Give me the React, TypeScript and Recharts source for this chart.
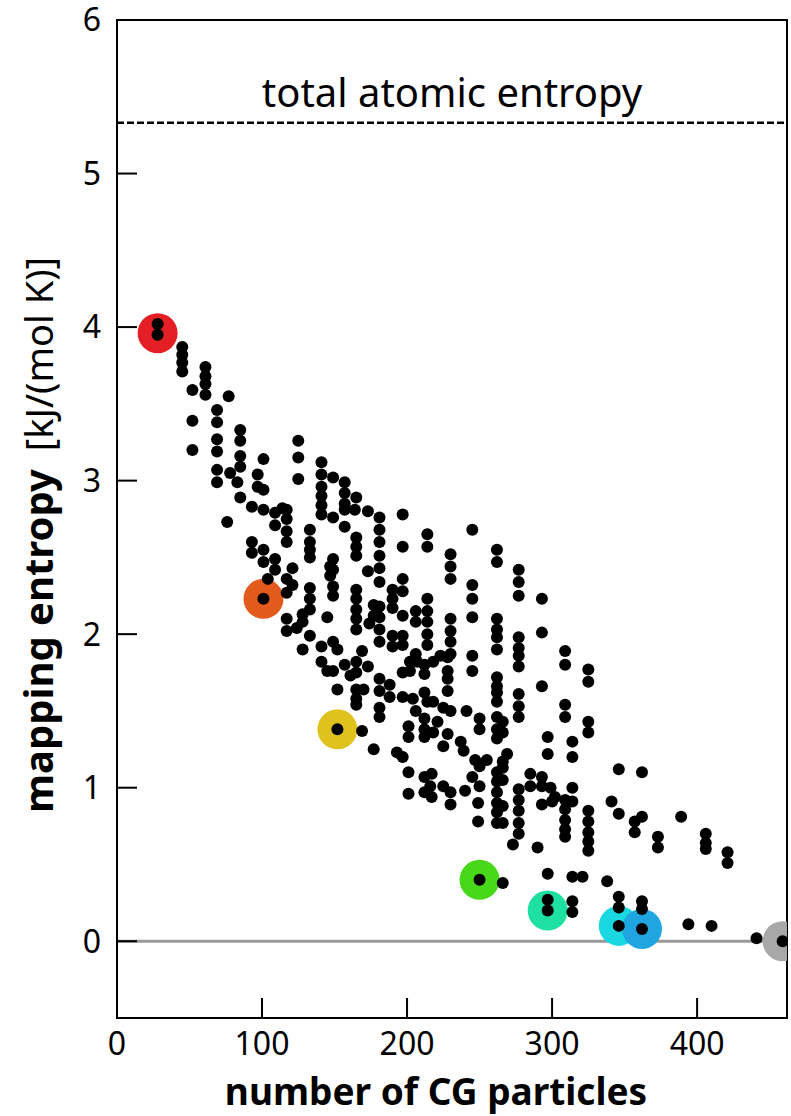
import { ScatterChart, Scatter, XAxis, YAxis, ReferenceLine, ReferenceArea, Label } from 'recharts'

const FONT = '"Noto Sans", sans-serif'

const xTicks = [0, 100, 200, 300, 400]
const yTicks = [0, 1, 2, 3, 4, 5, 6]
const totalAtomicEntropy = 5.33

// optimal mappings, one per resolution (coloured discs)
const highlightN = [28, 101, 152, 250, 297, 346, 362, 459]
const highlightS = [3.96, 2.23, 1.38, 0.4, 0.2, 0.1, 0.08, 0]
const highlightColors = ['#e31e24', '#e25a1c', '#dfc21e', '#48d81a', '#1ee0a0', '#19d8e2', '#1fa6e0', '#a8a8a8']

// sampled mappings: [number of CG sites, mapping entropy]
const mappings: [number, number][] = [
  [28, 4.02], [28, 3.95],
  [45, 3.87], [45, 3.82], [45, 3.77], [45, 3.71],
  [52, 3.59], [52, 3.39], [52, 3.2],
  [61, 3.74], [61, 3.68], [61, 3.63], [61, 3.56],
  [77, 3.55],
  [69, 3.46], [69, 3.38], [69, 3.27], [69, 3.19], [69, 3.07], [69, 2.99],
  [85, 3.33], [85, 3.26], [85, 3.16], [85, 3.09],
  [78, 3.05], [83, 2.99], [85, 2.89],
  [101, 3.14], [97, 3.04], [97, 2.96], [101, 2.94],
  [125, 3.26], [125, 3.15], [125, 3.01],
  [141, 3.12], [141, 3.04], [141, 2.96], [141, 2.9], [141, 2.84], [141, 2.78],
  [93, 2.83], [101, 2.81], [114, 2.82], [76, 2.73],
  [109, 2.79], [109, 2.71],
  [117, 2.81], [117, 2.75], [117, 2.67], [117, 2.6],
  [93, 2.6], [93, 2.53], [101, 2.55], [101, 2.47],
  [109, 2.49], [109, 2.42], [121, 2.43],
  [133, 2.68], [133, 2.6], [133, 2.55], [133, 2.5],
  [117, 2.36], [117, 2.27], [121, 2.32], [104, 2.36],
  [101, 2.23],
  [133, 2.3], [133, 2.23], [133, 2.16],
  [128, 2.13], [145, 2.11], [117, 2.1], [117, 2.02], [124, 2.04], [133, 1.99],
  [128, 1.9], [141, 1.92], [141, 1.82], [145, 1.76],
  [147, 2.44], [147, 2.38],
  [149, 3.02], [157, 2.99], [157, 2.92], [157, 2.85], [157, 2.81],
  [165, 2.89], [164, 2.81], [149, 2.76], [173, 2.8], [157, 2.7],
  [181, 2.76], [181, 2.68], [181, 2.6], [181, 2.51], [181, 2.43],
  [197, 2.78], [197, 2.57],
  [165, 2.63], [165, 2.57], [165, 2.51],
  [149, 2.49], [149, 2.42], [173, 2.41], [181, 2.34],
  [214, 2.65], [214, 2.57],
  [230, 2.52], [230, 2.44], [230, 2.36],
  [245, 2.68], [262, 2.55], [262, 2.47],
  [149, 2.31], [149, 2.25],
  [165, 2.29], [165, 2.23], [165, 2.16], [165, 2.1], [165, 2.03],
  [177, 2.19], [177, 2.12], [174, 2.07],
  [190, 2.29], [190, 2.23], [190, 2.17],
  [197, 2.36], [197, 2.28],
  [181, 2.18], [181, 2.11], [181, 2.03], [181, 1.95],
  [197, 2.12], [197, 1.99], [206, 2.15], [206, 2.08],
  [214, 2.23], [214, 2.15], [214, 2.08], [214, 2.0], [214, 1.93],
  [230, 2.1], [230, 2.02], [230, 1.95], [230, 1.87],
  [245, 2.32], [245, 2.23], [245, 2.11],
  [262, 2.1], [262, 2.03], [262, 1.98], [262, 1.9],
  [128, 2.08], [149, 1.95], [152, 1.9], [169, 1.89],
  [190, 1.99], [190, 1.92],
  [206, 1.87], [223, 1.86], [245, 1.86], [197, 1.93],
  [228, 1.85], [228, 1.76], [228, 1.71], [228, 1.63],
  [245, 1.76],
  [262, 1.72], [262, 1.66], [262, 1.62], [262, 1.56],
  [157, 1.8], [165, 1.82], [173, 1.79], [149, 1.76], [165, 1.75], [161, 1.73],
  [202, 1.82], [207, 1.82], [202, 1.76], [212, 1.8], [218, 1.82], [212, 1.74], [197, 1.75],
  [152, 1.64], [165, 1.64], [165, 1.58], [165, 1.54],
  [181, 1.71], [181, 1.63], [188, 1.67], [188, 1.59], [170, 1.64],
  [197, 1.59], [204, 1.58], [212, 1.62], [214, 1.56], [218, 1.56],
  [206, 1.5], [181, 1.52], [181, 1.46],
  [225, 1.52], [230, 1.5], [241, 1.5],
  [250, 1.45], [250, 1.38],
  [262, 1.46], [262, 1.38], [262, 1.32],
  [201, 1.4], [201, 1.33],
  [212, 1.45], [212, 1.38], [212, 1.33],
  [221, 1.43], [218, 1.36], [228, 1.35], [225, 1.27],
  [237, 1.3], [239, 1.24], [247, 1.18], [250, 1.14], [255, 1.18],
  [152, 1.38],
  [169, 1.37], [177, 1.25], [193, 1.23], [197, 1.2],
  [201, 1.1], [201, 0.96],
  [212, 1.07], [216, 1.01], [217, 1.09], [212, 0.97], [217, 0.94],
  [225, 1.01], [230, 0.97], [230, 0.89], [240, 0.98],
  [245, 1.07], [250, 1.01], [249, 0.9], [249, 0.78],
  [262, 1.1], [262, 1.04], [262, 0.97], [262, 0.9], [262, 0.84], [262, 0.77],
  [277, 2.42], [277, 2.34], [277, 2.25], [293, 2.23], [293, 2.01],
  [277, 1.98], [277, 1.91], [277, 1.86], [277, 1.79],
  [309, 1.89], [309, 1.8], [325, 1.77], [325, 1.69],
  [293, 1.66],
  [277, 1.61], [277, 1.53], [277, 1.46],
  [309, 1.54], [309, 1.46],
  [266, 1.43], [325, 1.43], [266, 1.36], [325, 1.36],
  [297, 1.33], [297, 1.22], [314, 1.3], [314, 1.2],
  [266, 1.17], [269, 1.22],
  [266, 1.13], [266, 1.05], [266, 0.88], [266, 0.77],
  [346, 1.12], [362, 1.1],
  [285, 1.09], [285, 1.01], [293, 1.07], [293, 1.01], [299, 1.0], [302, 0.94],
  [277, 0.99], [277, 0.92], [277, 0.85], [277, 0.77], [277, 0.7],
  [293, 0.89], [300, 0.91],
  [314, 1.0], [314, 0.91],
  [309, 0.92], [309, 0.86], [309, 0.79], [309, 0.73], [309, 0.68],
  [341, 0.91], [346, 0.83],
  [357, 0.78], [357, 0.71], [362, 0.81],
  [325, 0.85], [325, 0.78], [325, 0.71], [325, 0.65], [325, 0.59],
  [373, 0.68], [373, 0.61], [389, 0.81],
  [273, 0.63], [290, 0.61], [297, 0.44],
  [250, 0.4],
  [266, 0.38], [314, 0.42], [321, 0.42], [338, 0.39],
  [297, 0.27], [297, 0.2],
  [314, 0.26], [314, 0.19],
  [346, 0.29], [346, 0.22], [346, 0.1],
  [362, 0.26], [362, 0.21], [362, 0.08],
  [406, 0.7], [406, 0.64], [406, 0.6],
  [421, 0.58], [421, 0.51],
  [394, 0.11], [410, 0.1],
  [441, 0.02], [459, 0],
]

const dots = mappings.map(([x, y]) => ({ x, y }))
const discs = highlightN.map((x, i) => ({ x, y: highlightS[i], color: highlightColors[i] }))

const Disc = (props: any) => {
  const { cx, cy, payload } = props
  return <circle cx={cx} cy={cy} r={20} fill={payload.color} />
}

const Dot = (props: any) => <circle cx={props.cx} cy={props.cy} r={6} fill="#000" />

const tickStyle = { fill: '#000', fontSize: 32, fontFamily: FONT }
const lineStyle = { stroke: '#000', strokeWidth: 2 }

export default function App() {
  return (
    <div style={{ position: 'absolute', left: 0, top: 0, background: '#fff' }}>
      <ScatterChart width={791} height={1116} margin={{ top: 20, right: 4, bottom: 0, left: 0 }}>
        <XAxis
          type="number" dataKey="x" domain={[0, 462]} ticks={xTicks} interval={0}
          height={98} tick={tickStyle} tickSize={-20} tickMargin={34}
          tickLine={lineStyle} axisLine={lineStyle} allowDataOverflow
        >
          <Label content={() => (
            <text x={436} y={1105} textAnchor="middle" fontFamily={FONT} fontSize={37} fontWeight="bold" fill="#000">
              number of CG particles
            </text>
          )} />
        </XAxis>
        <YAxis
          type="number" dataKey="y" domain={[-0.5, 6]} ticks={yTicks} interval={0}
          width={117} tick={tickStyle} tickSize={-20} tickMargin={36}
          tickLine={lineStyle} axisLine={lineStyle} allowDataOverflow
        >
          <Label content={() => (
            <text transform="translate(53,535) rotate(-90)" textAnchor="middle" fontFamily={FONT} fontSize={40} fill="#000">
              <tspan fontWeight="bold">mapping entropy</tspan>
              <tspan dx={18} fontSize={38}>[kJ/(mol K)]</tspan>
            </text>
          )} />
        </YAxis>
        <ReferenceLine y={0} stroke="#999" strokeWidth={3} />
        <ReferenceLine
          y={totalAtomicEntropy} stroke="#000" strokeWidth={2.5} strokeDasharray="7 3"
          label={{ value: 'total atomic entropy', position: 'top', offset: 16, fill: '#000', fontSize: 40, fontFamily: FONT }}
        />
        <Scatter data={discs} shape={Disc} isAnimationActive={false} />
        <Scatter data={dots} shape={Dot} isAnimationActive={false} />
        <ReferenceArea x1={0} x2={462} y1={-0.5} y2={6} fill="none" fillOpacity={0} stroke="#000" strokeWidth={2} />
      </ScatterChart>
    </div>
  )
}
